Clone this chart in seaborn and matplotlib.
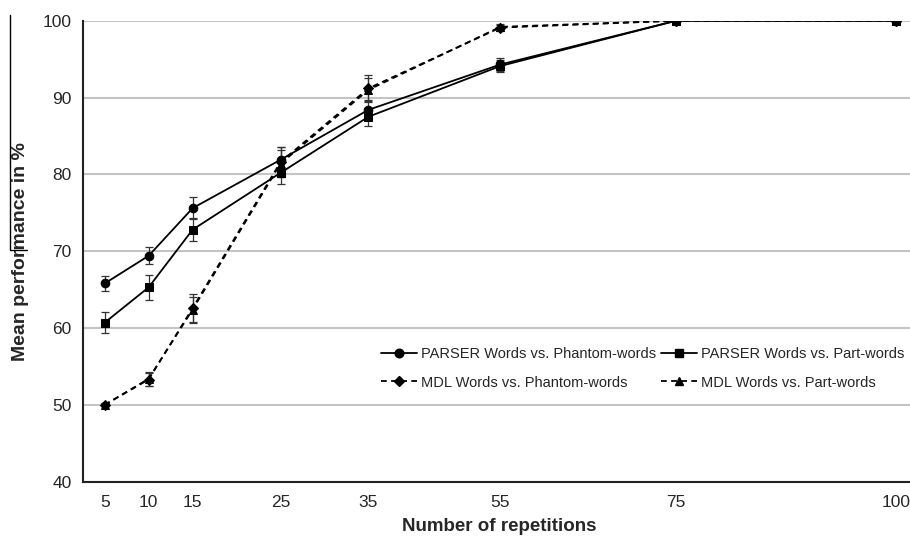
import matplotlib
matplotlib.use("Agg")
import matplotlib.pyplot as plt
from matplotlib.lines import Line2D
import seaborn as sns
import pandas as pd

# -----------------------------------------------------------
# Data
# -----------------------------------------------------------
# category slots of the x axis (blank slots keep the uneven spacing)
axis_labels = ["5", "10", "15", "", "25", "", "35", "", "", "55",
               "", "", "", "75", "", "", "", "", "100"]
reps = [5, 10, 15, 25, 35, 55, 75, 100]

parser_phantom = [65.8, 69.4, 75.6, 81.9, 88.4, 94.3, 100, 100]
parser_phantom_err = [1.0, 1.1, 1.4, 1.6, 1.3, 0.8, 0, 0]
parser_part = [60.7, 65.3, 72.8, 80.2, 87.5, 94.1, 100, 100]
parser_part_err = [1.35, 1.6, 1.5, 1.4, 1.2, 0.8, 0, 0]
mdl_phantom = [50.0, 53.3, 62.6, 81.6, 91.2, 99.1, 100, 100]
mdl_phantom_err = [0.2, 0.8, 1.8, 1.9, 1.7, 0.4, 0, 0]
mdl_part = [50.0, 53.4, 62.4, 81.4, 91.0, 99.2, 100, 100]
mdl_part_err = [0.2, 0.9, 1.7, 1.8, 1.6, 0.4, 0, 0]

series_names = ["PARSER Words vs. Phantom-words", "PARSER Words vs. Part-words",
                "MDL Words vs. Phantom-words", "MDL Words vs. Part-words"]
series_values = [parser_phantom, parser_part, mdl_phantom, mdl_part]
series_errors = [parser_phantom_err, parser_part_err, mdl_phantom_err, mdl_part_err]

slots = [axis_labels.index(str(r)) for r in reps]

rows = []
for name, vals, errs in zip(series_names, series_values, series_errors):
    for s, v, e in zip(slots, vals, errs):
        rows.append({"slot": s, "value": v, "err": e, "series": name})
df = pd.DataFrame(rows)

markers = {series_names[0]: "o", series_names[1]: "s",
           series_names[2]: "D", series_names[3]: "^"}
dashes = {series_names[0]: "", series_names[1]: "",
          series_names[2]: (3.2, 2.4), series_names[3]: (3.2, 2.4)}
msizes = {series_names[0]: 6.2, series_names[1]: 5.6,
          series_names[2]: 5.0, series_names[3]: 5.6}

# -----------------------------------------------------------
# Plot
# -----------------------------------------------------------
sns.set_style("white")
plt.rcParams["font.family"] = ["Liberation Sans", "DejaVu Sans"]

fig = plt.figure(figsize=(9.1, 5.4), dpi=100)
ax = fig.add_axes([82.7 / 910, 1 - 481.7 / 540, (918 - 82.7) / 910, (481.7 - 20.7) / 540])

for name in series_names:
    d = df[df["series"] == name]
    ax.errorbar(d["slot"], d["value"], yerr=d["err"], fmt="none",
                ecolor="#333333", elinewidth=0.9, capsize=2.8, capthick=0.9, zorder=3)

for name in series_names:
    d = df[df["series"] == name]
    sns.lineplot(data=d, x="slot", y="value", ax=ax, color="black",
                 linewidth=1.3, marker=markers[name], markersize=msizes[name],
                 markeredgecolor="black",
                 linestyle="--" if dashes[name] else "-", legend=False, zorder=4)
    if dashes[name]:
        ax.lines[-1].set_dashes(dashes[name])

ax.set_xlim(-0.5, len(axis_labels) - 0.5)
ax.set_ylim(40, 100)
ax.set_yticks(range(40, 101, 10))
ax.yaxis.grid(True, color="#c4c4c4", linewidth=1.5)
ax.set_axisbelow(True)

ax.set_xticks(range(len(axis_labels)))
ax.set_xticklabels(axis_labels)
ax.set_xticks([i - 0.5 for i in range(len(axis_labels) + 1)], minor=True)
ax.tick_params(axis="x", which="major", length=0, pad=9.5, labelsize=12.5)
ax.tick_params(axis="x", which="minor", length=2.8, width=1.0, color="#222222", direction="out")
ax.tick_params(axis="y", length=2.6, width=1.0, color="#222222", direction="out",
               pad=5.2, labelsize=12.5)

for side in ["top", "right"]:
    ax.spines[side].set_visible(False)
for side in ["left", "bottom"]:
    ax.spines[side].set_color("#222222")
    ax.spines[side].set_linewidth(1.5)

ax.set_xlabel("Number of repetitions", fontsize=13.5, weight="bold")
ax.set_ylabel("Mean performance in %", fontsize=14, weight="bold")
ax.xaxis.set_label_coords((499 - 82.7) / 835.3, -(518 - 481.7) / 461)
ax.yaxis.set_label_coords(-(82.7 - 29) / 835.3, 0.5)

handles = []
for name in series_names:
    h = Line2D([], [], color="black", linewidth=1.3, marker=markers[name],
               markersize=msizes[name], linestyle="--" if dashes[name] else "-")
    if dashes[name]:
        h.set_dashes(dashes[name])
    handles.append(h)
# legend fills column-first, so reorder to get PARSER entries on the first row
order = [0, 2, 1, 3]
leg = fig.legend([handles[i] for i in order], [series_names[i] for i in order],
                 loc="upper left", bbox_to_anchor=(381 / 910, 1 - 347 / 540), ncol=2,
                 frameon=False, fontsize=10.5, handlelength=2.5, handletextpad=0.25,
                 columnspacing=0.3, labelspacing=1.0, borderaxespad=0, borderpad=0)

# stray border mark at the left edge
fig.add_artist(Line2D([10 / 910, 10 / 910], [1 - 15 / 540, 1 - 250 / 540],
                      color="black", linewidth=1.0))
fig.add_artist(Line2D([10 / 910, 27 / 910], [1 - 250 / 540, 1 - 250 / 540],
                      color="black", linewidth=1.0))

fig.savefig("out.png", dpi=100)
